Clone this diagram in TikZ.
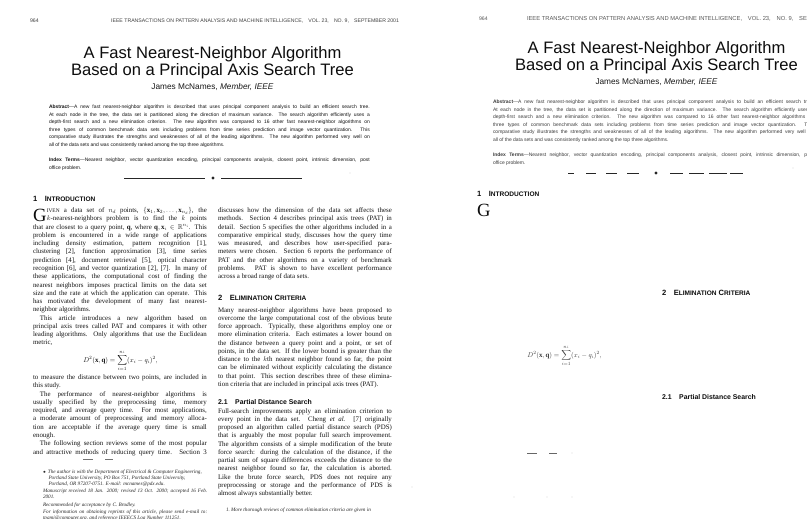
\documentclass[tikz,border=0pt]{standalone}
\usepackage{amssymb}
\usepackage{fontspec}
\setmainfont{Liberation Serif}
\setsansfont{Liberation Sans}
\usetikzlibrary{shapes.geometric}
\newcommand\JL[1]{\hbox to\hsize{#1}}
\newcommand\EL[1]{\hbox to\hsize{#1\hfil}}
\newcommand\COL[2]{\vtop{\hsize=#1\relax #2}}
\newcommand\SCx[1]{{\fontsize{9.5}{12}\selectfont #1}}
\newcommand\IVEN{{\fontsize{7.8}{12}\selectfont IVEN}}
\colorlet{ink}{black!92}
\newcommand\PageTop{%
\node[ttl] (title1) at (212.5,58) {A Fast Nearest-Neighbor Algorithm};
\node[ttl] (title2) at (212.5,75.5) {Based on a Principal Axis Search Tree};
\node[auth] (author) at (212.5,89.5) {James McNames, \textit{Member, IEEE}};
\node[abs] (abstract) at (49,108.5) {\COL{465pt}{%
\JL{\textbf{Abstract}\textemdash A new fast nearest-neighbor algorithm is described that uses principal component analysis to build an efficient search tree.}
\JL{At each node in the tree, the data set is partitioned along the direction of maximum variance. The search algorithm efficiently uses a}
\JL{depth-first search and a new elimination criterion. The new algorithm was compared to 16 other fast nearest-neighbor algorithms on}
\JL{three types of common benchmark data sets including problems from time series prediction and image vector quantization. This}
\JL{comparative study illustrates the strengths and weaknesses of all of the leading algorithms. The new algorithm performed very well on}
\EL{all of the data sets and was consistently ranked among the top three algorithms.}}};
\node[abs] (index) at (49,161.5) {\COL{465pt}{%
\JL{\textbf{Index Terms}\textemdash Nearest neighbor, vector quantization encoding, principal components analysis, closest point, intrinsic dimension, post}
\EL{office problem.}}};
\node[sec] (sec1) at (33,201.5) {1\hspace{11pt}I\SCx{NTRODUCTION}};
\node[dropcap] (dropG) at (33,221) {G};
\node[eqn] (eq) at (120.5,362) {$\displaystyle D^2(\mathbf{x},\mathbf{q}) = \sum_{i=1}^{n_i}(x_i-q_i)^2,$};
\node[sec] (sec2) at (218,300) {2\hspace{11pt}E\SCx{LIMINATION} C\SCx{RITERIA}};
\node[subsec] (sec21) at (218,404) {2.1\hspace{11pt}Partial Distance Search};
}
\begin{document}
\begin{tikzpicture}[x=1.4493pt,y=-1.4493pt,inner sep=0pt,outer sep=0pt,
  hdr/.style={font=\sffamily\fontsize{7.5}{8}\selectfont,text=black!75},
  ttl/.style={font=\sffamily\fontsize{24}{26}\selectfont,anchor=base,text=black!95},
  auth/.style={font=\sffamily\fontsize{12}{14}\selectfont,anchor=base,text=black!90},
  abs/.style={font=\sffamily\fontsize{7.2}{11}\selectfont,anchor=base west,text=ink},
  body/.style={font=\fontsize{10}{12}\selectfont,anchor=base west,text=ink},
  sec/.style={font=\sffamily\bfseries\fontsize{11}{12}\selectfont,anchor=base west,text=black!95},
  subsec/.style={font=\sffamily\bfseries\fontsize{10}{12}\selectfont,anchor=base west,text=black!95},
  dropcap/.style={font=\fontsize{27}{27}\selectfont,anchor=base west,text=black!95},
  eqn/.style={font=\fontsize{10}{12}\selectfont,anchor=base,text=ink},
  fn/.style={font=\itshape\fontsize{7.5}{9}\selectfont,anchor=base west,text=black!85},
  rulestyle/.style={line width=0.7pt,draw=black!85},
  speck/.style={fill=black!40}]
\useasboundingbox[fill=white] (0,0) rectangle (807,518);

% ---------------- left page ----------------
\begin{scope}[name prefix=L-]
\node[hdr,anchor=base west] (pg) at (30,22) {964};
\node[hdr,anchor=base east] (hd) at (399,22) {IEEE TRANSACTIONS ON PATTERN ANALYSIS AND MACHINE INTELLIGENCE,\quad VOL. 23,\quad NO. 9,\quad SEPTEMBER 2001};
\PageTop
\node[diamond,fill=black!85,minimum width=5pt,minimum height=5pt] (dia) at (213,178) {};
\draw[rulestyle] (124,178) -- (205,178);
\draw[rulestyle] (221,178) -- (302,178);

\node[body] (colA) at (33,212.5) {\COL{252pt}{%
\JL{\hspace{20pt}\IVEN{} a data set of $n_d$ points, $\{\mathbf{x}_1,\mathbf{x}_2,\ldots,\mathbf{x}_{n_d}\}$, the}
\JL{\hspace{20pt}$k$-nearest-neighbors problem is to find the $k$ points}
\JL{that are closest to a query point, $\mathbf{q}$, where $\mathbf{q},\mathbf{x}_i\in\mathbb{R}^{n_i}$. This}
\JL{problem is encountered in a wide range of applications}
\JL{including density estimation, pattern recognition [1],}
\JL{clustering [2], function approximation [3], time series}
\JL{prediction [4], document retrieval [5], optical character}
\JL{recognition [6], and vector quantization [2], [7]. In many of}
\JL{these applications, the computational cost of finding the}
\JL{nearest neighbors imposes practical limits on the data set}
\JL{size and the rate at which the application can operate. This}
\JL{has motivated the development of many fast nearest-}
\EL{neighbor algorithms.}
\JL{\hspace{1em}This article introduces a new algorithm based on}
\JL{principal axis trees called PAT and compares it with other}
\JL{leading algorithms. Only algorithms that use the Euclidean}
\EL{metric,}}};
\node[body] (colB) at (33,379.5) {\COL{252pt}{%
\JL{to measure the distance between two points, are included in}
\EL{this study.}
\JL{\hspace{1em}The performance of nearest-neighbor algorithms is}
\JL{usually specified by the preprocessing time, memory}
\JL{required, and average query time. For most applications,}
\JL{a moderate amount of preprocessing and memory alloca-}
\JL{tion are acceptable if the average query time is small}
\EL{enough.}
\JL{\hspace{1em}The following section reviews some of the most popular}
\JL{and attractive methods of reducing query time. Section 3}}};
\node[body] (colC) at (218,212.5) {\COL{252pt}{%
\JL{discusses how the dimension of the data set affects these}
\JL{methods. Section 4 describes principal axis trees (PAT) in}
\JL{detail. Section 5 specifies the other algorithms included in a}
\JL{comparative empirical study, discusses how the query time}
\JL{was measured, and describes how user-specified para-}
\JL{meters were chosen. Section 6 reports the performance of}
\JL{PAT and the other algorithms on a variety of benchmark}
\JL{problems. PAT is shown to have excellent performance}
\EL{across a broad range of data sets.}}};
\node[body] (colD) at (218,312) {\COL{252pt}{%
\JL{Many nearest-neighbor algorithms have been proposed to}
\JL{overcome the large computational cost of the obvious brute}
\JL{force approach. Typically, these algorithms employ one or}
\JL{more elimination criteria. Each estimates a lower bound on}
\JL{the distance between a query point and a point, or set of}
\JL{points, in the data set. If the lower bound is greater than the}
\JL{distance to the $k$th nearest neighbor found so far, the point}
\JL{can be eliminated without explicitly calculating the distance}
\JL{to that point. This section describes three of these elimina-}
\EL{tion criteria that are included in principal axis trees (PAT).}}};
\node[body] (colE) at (218,413) {\COL{252pt}{%
\JL{Full-search improvements apply an elimination criterion to}
\JL{every point in the data set. Cheng \textit{et al.} [7] originally}
\JL{proposed an algorithm called partial distance search (PDS)}
\JL{that is arguably the most popular full search improvement.}
\JL{The algorithm consists of a simple modification of the brute}
\JL{force search: during the calculation of the distance, if the}
\JL{partial sum of square differences exceeds the distance to the}
\JL{nearest neighbor found so far, the calculation is aborted.}
\JL{Like the brute force search, PDS does not require any}
\JL{preprocessing or storage and the performance of PDS is}
\EL{almost always substantially better.}}};
\node[fn] (fnR) at (226,511) {1.\ More thorough reviews of common elimination criteria are given in};
\draw[line width=0.4pt,draw=black!55] (83,459) -- (93,459);
\draw[line width=0.4pt,draw=black!55] (105,459) -- (113,459);
\node[fn] (fnL) at (43,473) {\COL{238pt}{%
\EL{$\bullet$\hspace{3pt}The author is with the Department of Electrical \& Computer Engineering,}
\EL{\hspace{8pt}Portland State University, PO Box 751, Portland State University,}
\EL{\hspace{8pt}Portland, OR 97207-0751. E-mail: mcnames@pdx.edu.}
\vskip1.5pt
\JL{Manuscript received 18 Jan. 2000; revised 13 Oct. 2000; accepted 16 Feb.}
\EL{2001.}
\vskip1.5pt
\EL{Recommended for acceptance by C. Brodley.}
\vskip1.5pt
\JL{For information on obtaining reprints of this article, please send e-mail to:}
\EL{tpami@computer.org, and reference IEEECS Log Number 111251.}}};
\fill[speck] (350,173) circle (0.6pt);
\fill[speck] (412,487) circle (0.6pt);
\end{scope}

% ---------------- right page ----------------
\begin{scope}[shift={(444,-5)},name prefix=R-]
\colorlet{ink}{black!76}
\PageTop
\end{scope}
\node[hdr,anchor=base west,text=black!65] (R-pg) at (479,20) {964};
\node[hdr,anchor=base west,text=black!65,font=\sffamily\fontsize{8.4}{9}\selectfont] (R-hd) at (527,20) {IEEE TRANSACTIONS ON PATTERN ANALYSIS AND MACHINE INTELLIGENCE,\quad VOL. 23,\quad NO. 9,\quad SEPTEMBER 2001};
\node[diamond,fill=black!85,minimum width=5pt,minimum height=5pt] (R-dia) at (656,173) {};
\foreach \a/\b in {568/574,586/596,606/617,627/639,670/683,689/704,709/727,730/743}
  \draw[rulestyle] (\a,173) -- (\b,173);
\draw[line width=0.5pt,draw=black!60] (527,453) -- (537,453);
\draw[line width=0.5pt,draw=black!60] (549,453) -- (557,453);
\fill[speck] (572,453) circle (0.5pt);
\fill[speck] (514,497) circle (0.5pt);
\fill[speck] (547,497) circle (0.5pt);
\fill[speck] (572,497) circle (0.5pt);
\fill[speck] (793,168) circle (0.5pt);
\end{tikzpicture}
\end{document}
